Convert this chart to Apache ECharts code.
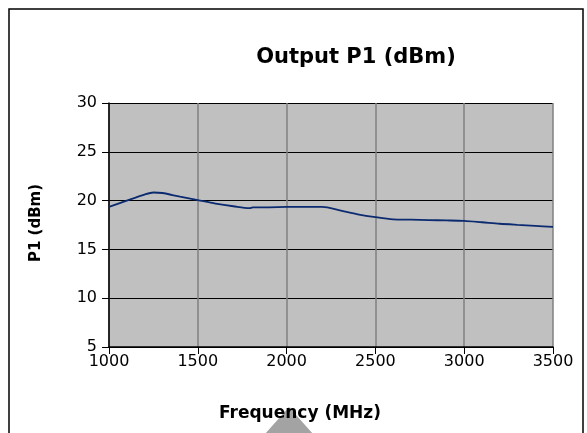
<!DOCTYPE html>
<html>
<head>
<meta charset="utf-8">
<script src="https://cdn.jsdelivr.net/npm/echarts@6/dist/echarts.min.js"></script>
<style>html,body{margin:0;padding:0;background:#fff}#c{width:587px;height:433px}</style>
</head>
<body>
<div id="c"></div>
<script>
const freqMHz = [1000,1100,1200,1250,1300,1400,1500,1600,1700,1790,1810,1900,2000,2100,2200,2300,2400,2500,2600,2700,2800,2900,3000,3100,3200,3300,3400,3500];
const p1dBm  = [19.35,20.0,20.62,20.83,20.78,20.4,20.05,19.7,19.42,19.22,19.3,19.31,19.35,19.36,19.35,19.0,18.6,18.3,18.08,18.05,18.0,17.97,17.92,17.78,17.63,17.52,17.42,17.3];
const titleText = 'Output P1 (dBm)';
const xTitle = 'Frequency (MHz)';
const yTitle = 'P1 (dBm)';

const chart = echarts.init(document.getElementById('c'), null, {renderer:'canvas'});
const F = '"DejaVu Sans", sans-serif';
chart.setOption({
  animation:false,
  backgroundColor:'#fff',
  title:{text:titleText,left:351,top:42,textAlign:'center',textStyle:{fontFamily:F,fontWeight:'bold',fontSize:21,color:'#000'}},
  grid:{left:109,right:34,top:103,bottom:86,show:true,backgroundColor:'#C0C0C0',borderWidth:0},
  xAxis:{type:'value',min:1000,max:3500,interval:500,
    axisLine:{lineStyle:{color:'#000',width:1.5}},
    axisTick:{show:true,length:7,inside:false,lineStyle:{color:'#000'}},
    axisLabel:{fontFamily:F,fontSize:16,color:'#000',margin:7,formatter:v=>String(v)},
    splitLine:{show:true,lineStyle:{color:'#808080',width:1.5}}},
  yAxis:{type:'value',min:5,max:30,interval:5,
    axisLine:{show:true,lineStyle:{color:'#000',width:1.5}},
    axisTick:{show:true,length:7,lineStyle:{color:'#000'}},
    axisLabel:{fontFamily:F,fontSize:16,color:'#000',margin:12,formatter:v=>String(v)},
    splitLine:{show:true,lineStyle:{color:'#000',width:1.2}}},
  graphic:[
    {type:'rect',z:-10,silent:true,shape:{x:9,y:9,width:574,height:440},style:{fill:null,stroke:'#000',lineWidth:1.5}},
    {type:'polygon',z:-10,silent:true,shape:{points:[[265,434],[289,407],[313,434]]},style:{fill:'#A3A3A3'}},
    {type:'text',z:100,silent:true,x:300,y:414,style:{text:xTitle,textAlign:'center',textVerticalAlign:'middle',font:'bold 17px '+F,fill:'#000'}},
    {type:'text',z:100,silent:true,x:36,y:223,rotation:Math.PI/2,style:{text:yTitle,textAlign:'center',textVerticalAlign:'middle',font:'bold 15px '+F,fill:'#000'}}
  ],
  series:[{type:'line',data:freqMHz.map((f,i)=>[f,p1dBm[i]]),showSymbol:false,smooth:0.3,
    lineStyle:{color:'#0B2A70',width:1.8}}]
});
</script>
</body>
</html>
